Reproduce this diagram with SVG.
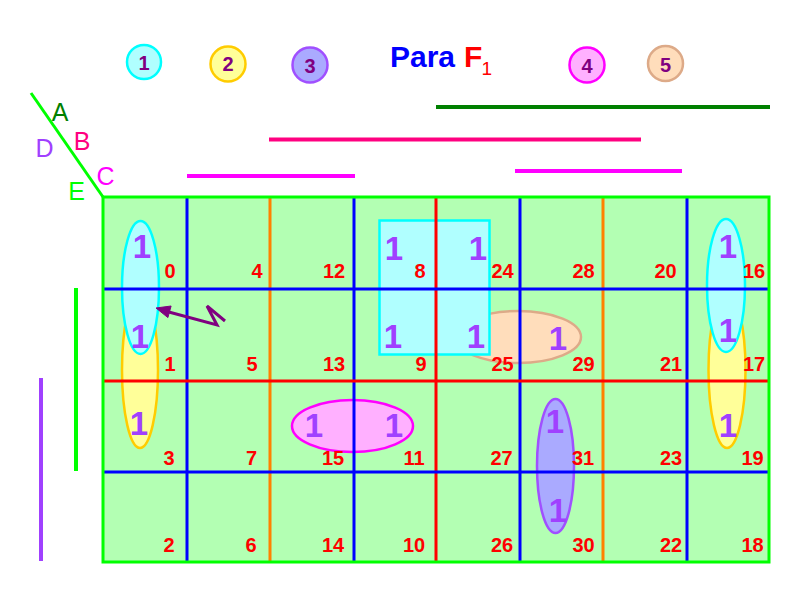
<svg xmlns="http://www.w3.org/2000/svg" width="800" height="600" viewBox="0 0 800 600">
<style>
.num{font-family:"Liberation Sans",Arial,sans-serif;font-weight:bold;font-size:20px;fill:#FF0000;text-anchor:middle}
.one{font-family:"Liberation Sans",Arial,sans-serif;font-weight:bold;font-size:33px;fill:#A040FF;text-anchor:middle}
.leg{font-family:"Liberation Sans",Arial,sans-serif;font-weight:bold;font-size:20px;fill:#800080;text-anchor:middle}
.lbl{font-family:"Liberation Sans",Arial,sans-serif;font-size:25px;text-anchor:middle}
.cy{fill:#B0FFFF;stroke:#00FFFF;stroke-width:2.5}
.ye{fill:#FFFF99;stroke:#FFCC00;stroke-width:2.5}
.la{fill:#AAAAFF;stroke:#A050FF;stroke-width:2.5}
.ma{fill:#FFB0FF;stroke:#FF00FF;stroke-width:2.5}
.pe{fill:#FFDDBB;stroke:#DDAA88;stroke-width:2.5}
.gb{stroke:#0000FF;stroke-width:3}
.go{stroke:#FF8000;stroke-width:3}
.gr{stroke:#FF0000;stroke-width:3}
.bar{stroke-width:4}
</style>
<rect width="800" height="600" fill="#FFFFFF"/>

<g id="map-background">
<rect x="103" y="197" width="666" height="365" fill="#B3FFB3"/>
</g>

<g id="groupings">
<ellipse id="g2a" class="ye" cx="140" cy="370" rx="18" ry="78"/>
<ellipse id="g2b" class="ye" cx="727" cy="370" rx="18.5" ry="78"/>
<ellipse id="g5" class="pe" cx="518" cy="337" rx="63" ry="26"/>
<ellipse id="g1a" class="cy" cx="140.5" cy="287.5" rx="18.5" ry="66.5"/>
<rect id="g1b" class="cy" x="379.5" y="220.5" width="110" height="134"/>
<ellipse id="g1c" class="cy" cx="726" cy="285.5" rx="19" ry="66.5"/>
<ellipse id="g4" class="ma" cx="352.5" cy="426" rx="60.5" ry="26"/>
<ellipse id="g3" class="la" cx="555.5" cy="466" rx="18.5" ry="67"/>
</g>

<g id="grid">
<line class="gb" x1="187" y1="197" x2="187" y2="562"/>
<line class="go" x1="270" y1="197" x2="270" y2="562"/>
<line class="gb" x1="354" y1="197" x2="354" y2="562"/>
<line class="gr" x1="436" y1="197" x2="436" y2="562"/>
<line class="gb" x1="520" y1="197" x2="520" y2="562"/>
<line class="go" x1="603" y1="197" x2="603" y2="562"/>
<line class="gb" x1="687" y1="197" x2="687" y2="562"/>
<line class="gb" x1="103" y1="289" x2="769" y2="289"/>
<line class="gr" x1="103" y1="381" x2="769" y2="381"/>
<line class="gb" x1="103" y1="472" x2="769" y2="472"/>
<rect x="103" y="197" width="666" height="365" fill="none" stroke="#00FF00" stroke-width="3"/>
</g>

<g id="cell-numbers">
<text class="num" x="170" y="278">0</text>
<text class="num" x="257" y="278">4</text>
<text class="num" x="334" y="278">12</text>
<text class="num" x="420" y="278">8</text>
<text class="num" x="502.5" y="278">24</text>
<text class="num" x="583.5" y="278">28</text>
<text class="num" x="665.5" y="278">20</text>
<text class="num" x="754" y="278">16</text>
<text class="num" x="170" y="371">1</text>
<text class="num" x="252" y="371">5</text>
<text class="num" x="334" y="371">13</text>
<text class="num" x="421" y="371">9</text>
<text class="num" x="502.5" y="371">25</text>
<text class="num" x="583.5" y="371">29</text>
<text class="num" x="671" y="371">21</text>
<text class="num" x="754" y="371">17</text>
<text class="num" x="169" y="465">3</text>
<text class="num" x="251.5" y="465">7</text>
<text class="num" x="333" y="465">15</text>
<text class="num" x="414" y="465">11</text>
<text class="num" x="501.5" y="465">27</text>
<text class="num" x="583" y="465">31</text>
<text class="num" x="671" y="465">23</text>
<text class="num" x="752.5" y="465">19</text>
<text class="num" x="169" y="552">2</text>
<text class="num" x="251" y="552">6</text>
<text class="num" x="333" y="552">14</text>
<text class="num" x="414" y="552">10</text>
<text class="num" x="502" y="552">26</text>
<text class="num" x="583.5" y="552">30</text>
<text class="num" x="671" y="552">22</text>
<text class="num" x="752.5" y="552">18</text>
</g>

<g id="ones">
<text class="one" x="142" y="258">1</text>
<text class="one" x="140" y="348">1</text>
<text class="one" x="139" y="435">1</text>
<text class="one" x="394" y="260">1</text>
<text class="one" x="478" y="260">1</text>
<text class="one" x="393" y="348">1</text>
<text class="one" x="476" y="348">1</text>
<text class="one" x="558" y="350">1</text>
<text class="one" x="728" y="258">1</text>
<text class="one" x="728" y="342">1</text>
<text class="one" x="728" y="437">1</text>
<text class="one" x="314" y="437">1</text>
<text class="one" x="394" y="437">1</text>
<text class="one" x="555" y="433">1</text>
<text class="one" x="558" y="522">1</text>
</g>

<g id="connectors">
<polyline points="225,321 207,306 217,325 166,311.2" fill="none" stroke="#800080" stroke-width="3" stroke-linejoin="miter"/>
<polygon points="156,308 171.1,306 167.9,317.6" fill="#800080" stroke="#800080" stroke-width="1"/>
</g>

<g id="legend">
<g id="leg1"><circle class="cy" cx="144" cy="62" r="17"/><text class="leg" x="144" y="70">1</text></g>
<g id="leg2"><circle class="ye" cx="228" cy="64" r="17.5"/><text class="leg" x="228" y="71">2</text></g>
<g id="leg3"><circle class="la" cx="310" cy="65" r="17.5"/><text class="leg" x="310" y="73">3</text></g>
<g id="leg4"><circle class="ma" cx="587" cy="65" r="17.5"/><text class="leg" x="587" y="73">4</text></g>
<g id="leg5"><circle class="pe" cx="665.5" cy="63.5" r="17.5"/><text class="leg" x="665.5" y="72">5</text></g>
</g>

<g id="title">
<text x="390" y="67" font-family="'Liberation Sans',Arial,sans-serif" font-weight="bold" font-size="30" fill="#0000FF">Para</text>
<text x="464" y="67" font-family="'Liberation Sans',Arial,sans-serif" font-weight="bold" font-size="30" fill="#FF0000">F</text>
<text x="481.5" y="75" font-family="'Liberation Sans',Arial,sans-serif" font-size="19" fill="#FF0000">1</text>
</g>

<g id="variable-bars">
<line class="bar" x1="436" y1="107" x2="770" y2="107" stroke="#008000"/>
<line class="bar" x1="269" y1="139.5" x2="641" y2="139.5" stroke="#FF0080"/>
<line class="bar" x1="187" y1="176" x2="355" y2="176" stroke="#FF00FF"/>
<line class="bar" x1="515" y1="171" x2="682" y2="171" stroke="#FF00FF"/>
<line class="bar" x1="76" y1="288" x2="76" y2="471" stroke="#00FF00"/>
<line class="bar" x1="41" y1="378" x2="41" y2="561" stroke="#A040FF"/>
</g>

<g id="corner-labels">
<line x1="31" y1="93" x2="103" y2="197" stroke="#00FF00" stroke-width="3"/>
<text class="lbl" x="60" y="121" fill="#008000">A</text>
<text class="lbl" x="82" y="150" fill="#FF0080">B</text>
<text class="lbl" x="105.5" y="185" fill="#FF00FF">C</text>
<text class="lbl" x="44.5" y="157" fill="#A040FF">D</text>
<text class="lbl" x="76.5" y="200" fill="#00FF00">E</text>
</g>
</svg>
